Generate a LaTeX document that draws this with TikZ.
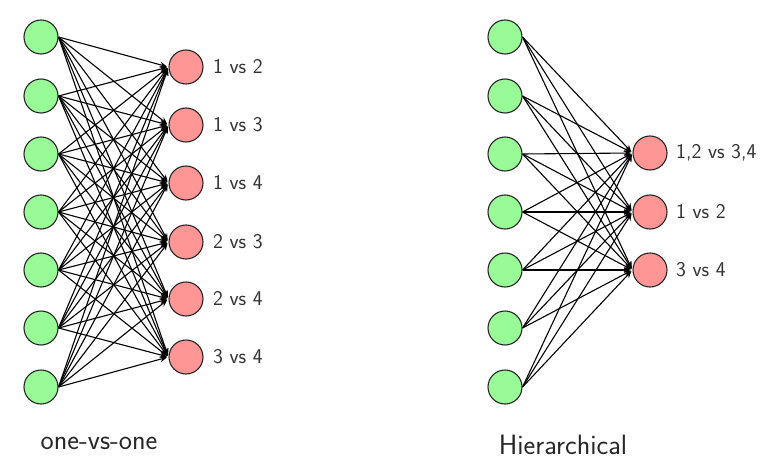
\documentclass[tikz,border=0pt]{standalone}
\usetikzlibrary{arrows.meta}
\definecolor{ingreen}{RGB}{152,251,152}
\definecolor{outred}{RGB}{255,150,150}
\begin{document}
\begin{tikzpicture}[x=1pt,y=1pt,
  innode/.style={circle,draw=black!85,line width=1.1pt,fill=ingreen,minimum size=34pt,inner sep=0pt},
  outnode/.style={circle,draw=black!85,line width=1.1pt,fill=outred,minimum size=34pt,inner sep=0pt},
  conn/.style={line width=1.1pt,-{Stealth[length=7pt,width=6pt]},shorten >=1.5pt},
  lab/.style={font=\sffamily\fontsize{21}{25}\selectfont,text=black!80,anchor=west,inner sep=0pt},
  captext/.style={font=\sffamily\fontsize{28}{32}\selectfont,text=black!85,inner sep=0pt}]
\useasboundingbox (0,0) rectangle (770,472);
% left network
\foreach \i/\y in {1/37,2/96,3/154,4/212,5/270,6/328,7/387}
  \node[innode] (a\i) at (41,472-\y) {};
\foreach \j/\y/\t in {1/67/1 vs 2,2/125/1 vs 3,3/183/1 vs 4,4/242/2 vs 3,5/299/2 vs 4,6/357/3 vs 4}{
  \node[outnode] (b\j) at (186,472-\y) {};
  \node[lab] (bl\j) at (213,472-\y) {\t};
}
\foreach \i in {1,...,7}
  \foreach \j in {1,...,6}
    \draw[conn] (a\i.east) -- (b\j.west);
\node[captext] (capl) at (99,472-443) {one-vs-one};
% right network
\foreach \i/\y in {1/37,2/96,3/154,4/212,5/270,6/328,7/387}
  \node[innode] (c\i) at (505,472-\y) {};
\foreach \j/\y/\t in {1/153/{1,2 vs 3,4},2/212/1 vs 2,3/270/3 vs 4}{
  \node[outnode] (d\j) at (650,472-\y) {};
  \node[lab] (dl\j) at (676,472-\y) {\t};
}
\foreach \i in {1,...,7}
  \foreach \j in {1,2,3}
    \draw[conn] (c\i.east) -- (d\j.west);
\node[captext] (capr) at (563,472-445) {Hierarchical};
\end{tikzpicture}
\end{document}
